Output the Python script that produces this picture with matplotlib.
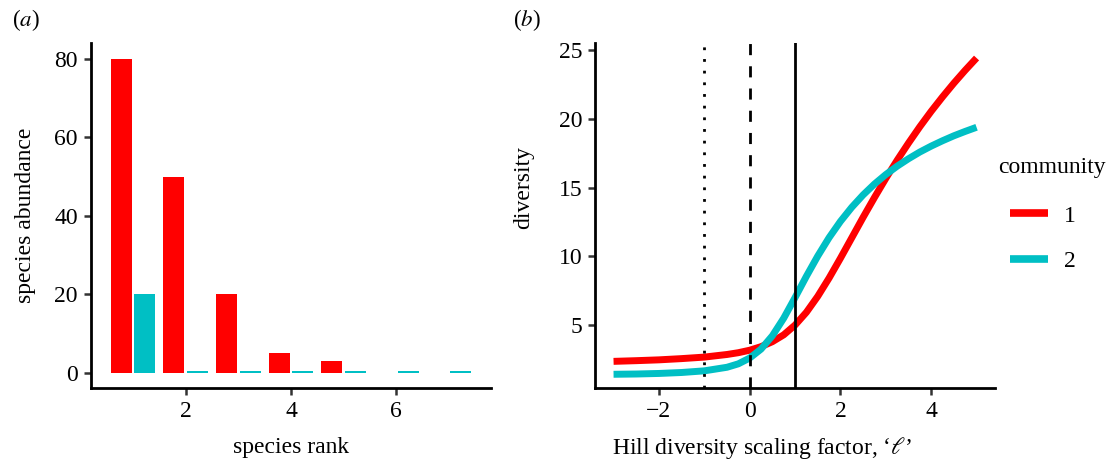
import matplotlib
matplotlib.use("Agg")
import matplotlib.pyplot as plt
import numpy as np

plt.rcParams['font.family'] = ['Liberation Serif', 'DejaVu Serif']
plt.rcParams['mathtext.fontset'] = 'stix'

# ---------------- data ----------------
ranks1 = [1, 2, 3, 4, 5]
abund1 = [80, 50, 20, 5, 3]
ranks2 = [1, 2, 3, 4, 5, 6, 7]
abund2 = [20, 0.3, 0.3, 0.3, 0.3, 0.3, 0.3]

ell = [-3, -2.5, -2, -1.5, -1, -0.5, -0.25, 0, 0.25, 0.5, 0.75, 1, 1.25, 1.5,
       1.75, 2, 2.25, 2.5, 2.75, 3, 3.25, 3.5, 3.75, 4, 4.25, 4.5, 4.75, 5]
div1 = [2.36, 2.41, 2.47, 2.56, 2.67, 2.86, 2.99, 3.17, 3.43, 3.79, 4.29, 5.00,
        5.93, 7.09, 8.42, 9.86, 11.35, 12.84, 14.28, 15.67, 16.99, 18.24,
        19.43, 20.55, 21.60, 22.60, 23.54, 24.43]
div2 = [1.42, 1.44, 1.48, 1.55, 1.67, 1.93, 2.18, 2.60, 3.25, 4.22, 5.50, 7.00,
        8.55, 10.02, 11.36, 12.54, 13.57, 14.47, 15.26, 15.95, 16.56, 17.10,
        17.59, 18.02, 18.41, 18.77, 19.09, 19.39]
vlines = [-1, 0, 1]
community_labels = ['1', '2']

RED = '#FF0000'
CYAN = '#00BFC4'
FS = 17

fig = plt.figure(figsize=(11.11, 4.63), dpi=100)
W, H = 1111, 463

def axes_rect(l, t, r, b):
    return [l / W, 1 - b / H, (r - l) / W, (b - t) / H]

ax1 = fig.add_axes(axes_rect(91, 43.3, 491, 388.3))
ax2 = fig.add_axes(axes_rect(595.4, 43.3, 994.7, 388.3))

for ax in (ax1, ax2):
    for s in ('top', 'right'):
        ax.spines[s].set_visible(False)
    for s in ('left', 'bottom'):
        ax.spines[s].set_linewidth(2.0)
        ax.spines[s].set_color('black')
    ax.tick_params(length=5, width=1.8, color='#333333', labelsize=FS,
                   labelcolor='black', pad=4.5)

# ---------------- panel a ----------------
ax1.bar(np.array(ranks1) - 0.225, abund1, width=0.4, color=RED, zorder=2)
ax1.bar(np.array(ranks2) + 0.225, abund2, width=0.4, color=CYAN, zorder=2)
ax1.set_xlim(0.2, 7.8)
ax1.set_ylim(-4, 84)
ax1.set_xticks([2, 4, 6])
ax1.set_yticks([0, 20, 40, 60, 80])
ax1.set_xlabel('species rank', fontsize=FS)
ax1.set_ylabel('species abundance', fontsize=FS)
ax1.yaxis.label.set_verticalalignment('center')
ax1.xaxis.label.set_verticalalignment('center')
ax1.yaxis.set_label_coords(-0.1625, 0.5)
ax1.xaxis.set_label_coords(0.5, -0.173)

# ---------------- panel b ----------------
l1, = ax2.plot(ell, div1, color=RED, lw=5.0, solid_capstyle='butt', zorder=2)
l2, = ax2.plot(ell, div2, color=CYAN, lw=5.0, solid_capstyle='butt', zorder=2)
styles = [(0, (1, 3.2)), (0, (4, 4)), '-']
for v, ls in zip(vlines, styles):
    ax2.axvline(v, color='black', lw=2.0, linestyle=ls, zorder=3)
ax2.set_xlim(-3.4, 5.4)
ax2.set_ylim(0.4, 25.5)
ax2.set_xticks([-2, 0, 2, 4])
ax2.set_yticks([5, 10, 15, 20, 25])
ax2.set_xlabel('Hill diversity scaling factor, \u2018$\\ell$\u2019', fontsize=FS)
ax2.set_ylabel('diversity', fontsize=FS)
ax2.yaxis.label.set_verticalalignment('center')
ax2.xaxis.label.set_verticalalignment('center')
ax2.yaxis.set_label_coords(-0.1788, 0.583)
ax2.xaxis.set_label_coords(0.4165, -0.173)

# legend
fig.text(998 / W, 1 - 167 / H, 'community', fontsize=FS, ha='left', va='center')
leg = ax2.legend([l1, l2], community_labels, loc='upper left',
                 bbox_to_anchor=(1010 / W, 1 - 205 / H),
                 bbox_transform=fig.transFigure, frameon=False,
                 fontsize=FS, borderpad=0, borderaxespad=0,
                 handlelength=1.6, handletextpad=0.7, labelspacing=1.02)
for h in leg.get_lines():
    h.set_linewidth(5.5)

# panel labels
fig.text(12 / W, 1 - 20 / H, '($a$)', fontsize=16.5, ha='left', va='center')
fig.text(513 / W, 1 - 20 / H, '($b$)', fontsize=16.5, ha='left', va='center')

fig.savefig('out.png', dpi=100)
